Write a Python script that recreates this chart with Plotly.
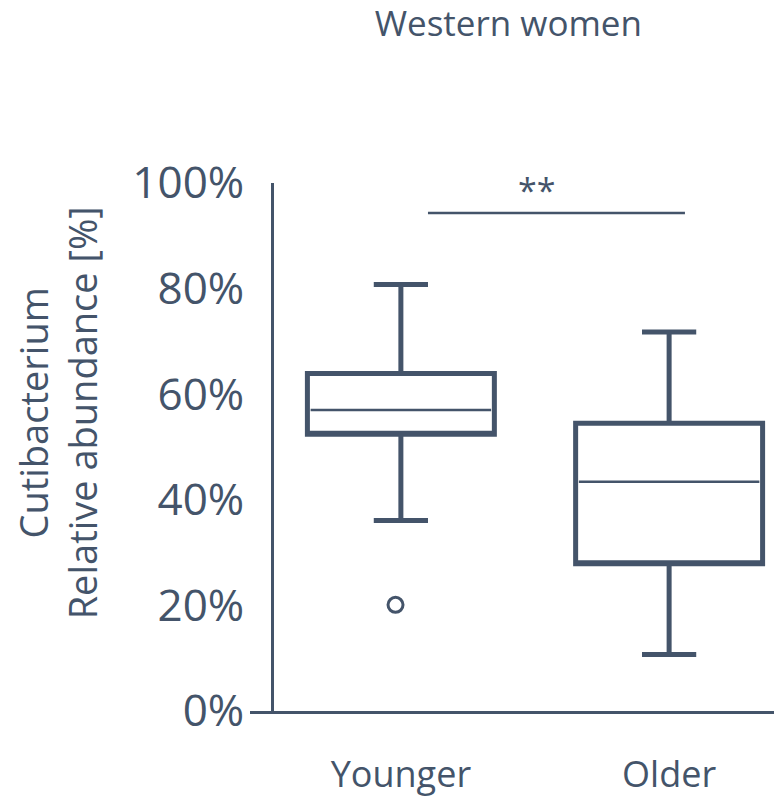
import plotly.graph_objects as go

# ---- data ----
categories = ["Younger", "Older"]
q1 = [52.4, 27.9]
median = [57.0, 43.4]
q3 = [63.9, 54.5]
lowerfence = [36.1, 10.7]
upperfence = [80.8, 71.8]
outlier_group = [0]
outlier_values = [20.1]
y_ticks = [0, 20, 40, 60, 80, 100]
y_tick_labels = ["0%", "20%", "40%", "60%", "80%", "100%"]
title_text = "Western women"
y_title = "Cutibacterium<br>Relative abundance [%]"
sig_label = "**"

COLOR = "#44546A"
FONT = "Open Sans"
BOX_W = 0.697

fig = go.Figure()

for i, cat in enumerate(categories):
    # box drawn with thick outline; median drawn separately as a thin line
    fig.add_trace(go.Box(
        x=[i], q1=[q1[i]], median=[q1[i]], q3=[q3[i]],
        lowerfence=[lowerfence[i]], upperfence=[upperfence[i]],
        width=BOX_W, whiskerwidth=0.29,
        line=dict(color=COLOR, width=5), fillcolor="rgba(0,0,0,0)",
        boxpoints=False, showlegend=False, hoverinfo="skip",
    ))
    fig.add_trace(go.Scatter(
        x=[i - BOX_W / 2 + 0.012, i + BOX_W / 2 - 0.012], y=[median[i], median[i]],
        mode="lines", line=dict(color=COLOR, width=2.5), showlegend=False, hoverinfo="skip",
    ))

fig.add_trace(go.Scatter(
    x=[g - 0.02 for g in outlier_group], y=outlier_values, mode="markers",
    marker=dict(symbol="circle-open", size=15, color=COLOR, line=dict(width=3, color=COLOR)),
    showlegend=False, hoverinfo="skip",
))

# significance bar
fig.add_shape(type="line", xref="x", yref="y", x0=0.101, x1=1.059, y0=94.3, y1=94.3,
              line=dict(color=COLOR, width=2.5))
fig.add_annotation(x=0.505, y=94.3, xref="x", yref="y", text=sig_label, showarrow=False,
                   yanchor="bottom", yshift=-2, font=dict(family=FONT, size=34, color=COLOR))

# y axis title
fig.add_annotation(x=-0.367, y=0.565, xref="paper", yref="paper", text=y_title,
                   xanchor="center", yanchor="middle",
                   textangle=-90, showarrow=False,
                   font=dict(family=FONT, size=38, color=COLOR))

fig.update_layout(
    width=774, height=799,
    margin=dict(l=250, r=0, t=183, b=88, autoexpand=False),
    paper_bgcolor="white", plot_bgcolor="white",
    title=dict(text=title_text, x=0.493, xref="paper", y=0.970, yanchor="middle",
               font=dict(family=FONT, size=35, color=COLOR), automargin=False),
    font=dict(family=FONT, color=COLOR),
    xaxis=dict(
        range=[-0.5625, 1.391], tickvals=list(range(len(categories))), ticktext=categories,
        showgrid=False, zeroline=False, showline=True, linecolor=COLOR, linewidth=3,
        ticks="", ticklabelstandoff=30, tickfont=dict(family=FONT, size=36, color=COLOR),
        automargin=False,
    ),
    yaxis=dict(
        range=[0, 100], tickvals=y_ticks, ticktext=y_tick_labels, anchor="free", position=0.042,
        showgrid=False, zeroline=False, showline=True, linecolor=COLOR, linewidth=3,
        ticks="", ticklabelstandoff=18, tickfont=dict(family=FONT, size=44, color=COLOR),
        automargin=False,
    ),
)

fig.write_html("out.html", config={"displayModeBar": False},
               post_script="document.body.style.margin='0';document.body.style.padding='0';")
